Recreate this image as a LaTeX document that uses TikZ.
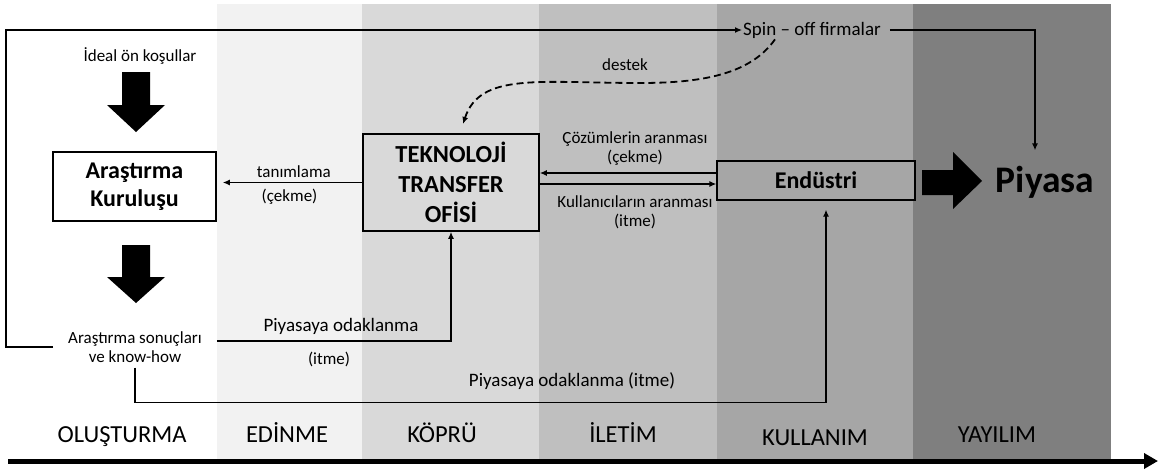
\documentclass[tikz,border=0pt]{standalone}
\usepackage{fontspec}
\setmainfont{Carlito}
\usepackage{tikz}
\usetikzlibrary{arrows.meta,positioning}
\usepackage{xcolor}
\definecolor{EdinGray}{HTML}{F2F2F2}
\definecolor{KopruGray}{HTML}{D9D9D9}
\definecolor{IletGray}{HTML}{BFBFBF}
\definecolor{KullGray}{HTML}{A6A6A6}
\definecolor{YayGray}{HTML}{7F7F7F}

\begin{document}
\begin{tikzpicture}[x=1pt,y=-1pt,
  >={Latex[length=7pt,width=6pt]},
  conn/.style={line width=1.3pt},
  lbl/.style={font=\fontsize{17}{19}\selectfont,inner sep=1pt,align=center},
  phase/.style={font=\fontsize{24.5}{27}\selectfont,anchor=base},
  box/.style={draw,line width=1.6pt,align=center,
              font=\bfseries\fontsize{24}{28}\selectfont},
]
\useasboundingbox (0,0) rectangle (1159,474);
% phase bands
\fill[EdinGray] (217,4) rectangle (362,460);
\fill[KopruGray] (362,4) rectangle (539,460);
\fill[IletGray] (539,4) rectangle (717,460);
\fill[KullGray] (717,4) rectangle (913,460);
\fill[YayGray] (913,4) rectangle (1111,460);

\node[box,fill=white,minimum width=163pt,minimum height=69pt] (arast) at (134.5,186.5) {Araştırma\\Kuruluşu};
\node[box,fill=KopruGray,minimum width=176pt,minimum height=97pt,
      font=\bfseries\fontsize{24.5}{30}\selectfont] (tto) at (451,182.5) {TEKNOLOJİ\\TRANSFER\\OFİSİ};
\node[box,fill=KullGray,line width=1.3pt,minimum width=198pt,minimum height=39pt] (endu) at (816,180.5) {Endüstri};
\node[font=\bfseries\fontsize{37.5}{40}\selectfont] (piyasa) at (1045,182) {Piyasa};

\node[lbl] (ideal) at (140,56) {İdeal ön koşullar};
\node[lbl,inner xsep=15pt,inner ysep=5pt] (sonuc) at (135,347) {Araştırma sonuçları\\ve know-how};
\node[lbl,font=\fontsize{19}{22}\selectfont] (spin) at (812,30) {Spin – off firmalar};

% block arrows
\fill (122,72) -- (150,72) -- (150,105) -- (165,105) -- (136,132) -- (107,105) -- (122,105) -- cycle;
\fill (122,245) -- (150,245) -- (150,277) -- (165,277) -- (136,303) -- (107,277) -- (122,277) -- cycle;
\fill (922,170) -- (953,170) -- (953,152) -- (982,181) -- (953,209) -- (953,195) -- (922,195) -- cycle;

% connectors
\draw[conn,->] (sonuc.west) -- ++(-47,0) |- (spin.west);
\draw[conn,->] ([xshift=8pt]spin.east) -| ([xshift=-10pt,yshift=12pt]piyasa.north);
\draw[conn,->,shorten >=6pt] (tto.west) -- (tto.west -| arast.east)
  node[lbl,pos=0.47,above=3pt] (tanim) {tanımlama}
  node[lbl,pos=0.5,below=5pt] (cekme1) {(çekme)};
\draw[conn,->] ([yshift=7.5pt]endu.west) -- ([yshift=9.5pt]tto.east);
\draw[conn,->] ([yshift=-1.5pt]tto.east) -- ([yshift=-3.5pt]endu.west);
\node[lbl] (cozum) at (635,149) {Çözümlerin aranması\\(çekme)};
\node[lbl] (kullan) at (635,212) {Kullanıcıların aranması\\(itme)};
\draw[conn,->] ([yshift=6pt]sonuc.east) -| (tto.south);
\node[lbl,font=\fontsize{19}{22}\selectfont] (odak1) at (341,326) {Piyasaya odaklanma};
\node[lbl] (itme1) at (329,359) {(itme)};
\draw[conn,->,shorten >=9pt] (sonuc.south) -- ++(0,35) -| ([xshift=10pt]endu.south);
\node[lbl,font=\fontsize{19}{22}\selectfont] (odak2) at (572,381) {Piyasaya odaklanma (itme)};
\draw[conn,->,line width=1.8pt,dash pattern=on 7pt off 4pt]
  ([xshift=-37pt]spin.south) .. controls (750,75) and (700,83) .. (640,83)
  .. controls (540,83) and (480,72) .. (463,124);
\node[lbl] (destek) at (625,65) {destek};

% phases
\node[phase] (olus) at (122,442) {OLUŞTURMA};
\node[phase] (edin) at (287,442) {EDİNME};
\node[phase] (kopru) at (442,442) {KÖPRÜ};
\node[phase] (ilet) at (623,442) {İLETİM};
\node[phase] (kull) at (815,445) {KULLANIM};
\node[phase] (yay) at (997,442) {YAYILIM};
\draw[line width=5pt,-{Triangle[length=14pt,width=15pt]}] (8,461) -- (1158,461);
\end{tikzpicture}
\end{document}
